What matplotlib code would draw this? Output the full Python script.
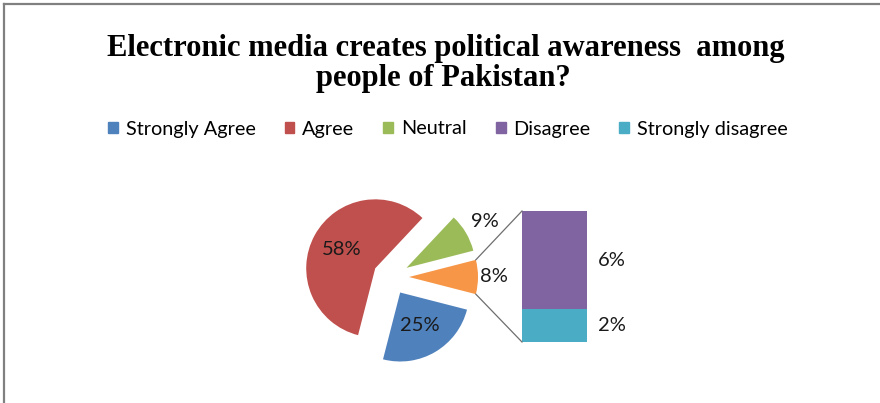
import numpy as np
import matplotlib.pyplot as plt
from matplotlib.patches import Patch
from matplotlib.lines import Line2D

categories = ['Strongly Agree', 'Agree', 'Neutral', 'Disagree', 'Strongly disagree']
values = [25, 58, 9, 6, 2]
colors = ['#4F81BD', '#C0504D', '#9BBB59', '#8064A2', '#4BACC6']
other_color = '#F79646'

# pie slices counter-clockwise from the right: other, neutral, agree, strongly agree
pie_vals = [values[3] + values[4], values[2], values[1], values[0]]
pie_colors = [other_color, colors[2], colors[1], colors[0]]
# stacked bar for the "other" slice, bottom to top
bar_vals = [values[4], values[3]]
bar_colors = [colors[4], colors[3]]

W, H = 880, 403
fig = plt.figure(figsize=(W / 100, H / 100), dpi=100)
ax = fig.add_axes([0, 0, 1, 1])

lbl_font = dict(family=['Lato', 'DejaVu Sans'], fontsize=14.5, color='#1a1a1a')

# explode is in data units here (pixels)
wedges, texts, autotexts = ax.pie(
    pie_vals, colors=pie_colors, explode=[18] * 4,
    startangle=-pie_vals[0] / 100 * 180, counterclock=True,
    center=(391, 126), radius=69,
    autopct=lambda p: f'{p:.0f}%', pctdistance=0.56,
    textprops=lbl_font, wedgeprops=dict(linewidth=0))

# small slices get their labels outside
for i, k in [(0, 1.23), (1, 1.32)]:
    w = wedges[i]
    th = np.deg2rad((w.theta1 + w.theta2) / 2)
    cx, cy = w.center
    autotexts[i].set_position((cx + k * w.r * np.cos(th), cy + k * w.r * np.sin(th)))

# bar of pie
scale = 131 / pie_vals[0]
bar_x, bar_w, bar_base = 554.5, 65, 61
heights = np.array(bar_vals) * scale
bottoms = bar_base + np.concatenate([[0], np.cumsum(heights)[:-1]])
ax.bar(bar_x, heights, width=bar_w, bottom=bottoms, color=bar_colors, linewidth=0)
for v, h, b in zip(bar_vals, heights, bottoms):
    ax.text(bar_x + bar_w / 2 + 25, b + h / 2, f'{v}%', ha='center', va='center', **lbl_font)

# connector lines from the orange slice to the bar
w = wedges[0]
cx, cy = w.center
left = bar_x - bar_w / 2
top = bar_base + heights.sum()
for ang, y_end in [(w.theta2, top), (w.theta1, bar_base)]:
    a = np.deg2rad(ang)
    ax.plot([cx + w.r * np.cos(a), left], [cy + w.r * np.sin(a), y_end],
            color='#6e6e6e', lw=0.9)

ax.set_xlim(0, W)
ax.set_ylim(0, H)
ax.set_aspect('equal')
ax.axis('off')

title_font = dict(family='Liberation Serif', fontweight='bold', fontsize=22.0, ha='center')
fig.text(446 / W, 1 - 56 / H, 'Electronic media creates political awareness  among', va='baseline', **title_font)
fig.text(443 / W, 1 - 86 / H, 'people of Pakistan?', va='baseline', **title_font)

handles = [Patch(color=c) for c in colors]
fig.legend(handles, categories, loc='center', bbox_to_anchor=(448 / W, 1 - 129 / H),
           ncol=5, frameon=False, prop=dict(family='Lato', size=14.3),
           handlelength=0.5, handleheight=0.5, handletextpad=0.4, columnspacing=1.45)

# chart frame
fig.add_artist(Line2D([4.3 / W, 4.3 / W], [0, 1 - 4 / H], color='#808080', lw=1.6))
fig.add_artist(Line2D([4.3 / W, 1], [1 - 4 / H, 1 - 4 / H], color='#808080', lw=1.6))

fig.savefig('out.png', dpi=100)
